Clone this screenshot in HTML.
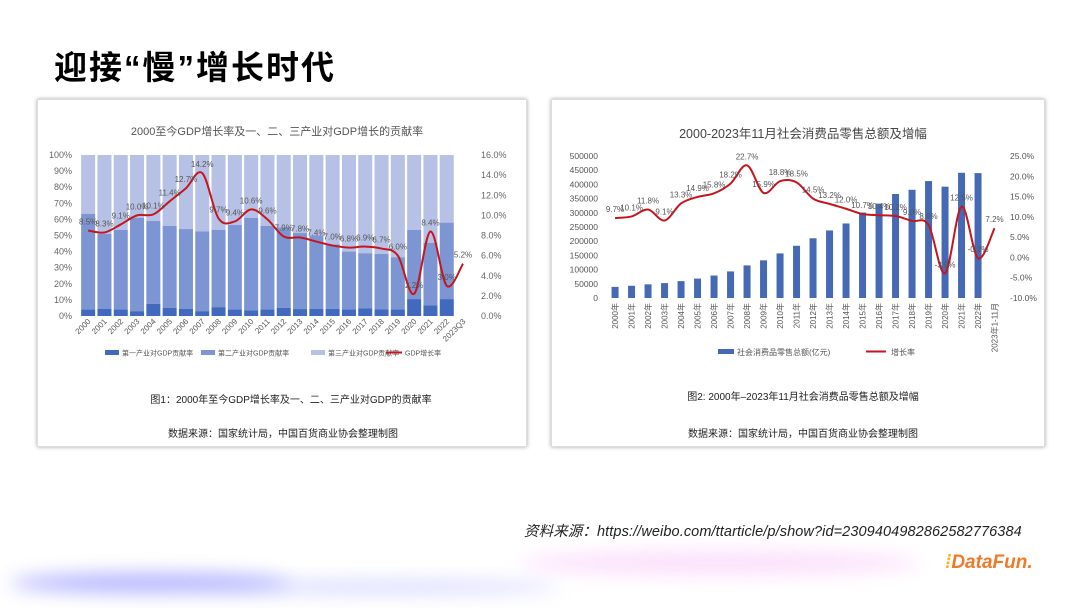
<!DOCTYPE html>
<html><head><meta charset="utf-8">
<style>
body{margin:0;width:1080px;height:608px;overflow:hidden;background:#fff;font-family:"Liberation Sans","Noto Sans CJK SC",sans-serif;position:relative}
.abs{position:absolute}
.card{position:absolute;background:#fff;box-shadow:0 0 4px rgba(0,0,0,.35);border:1px solid #ddd}
.cap{position:absolute;font-size:10px;color:#222;white-space:nowrap;transform:translateX(-50%)}
</style></head><body>
<div class="abs" style="left:54px;top:41px;font-size:33px;font-weight:bold;color:#000;font-family:'Liberation Sans','Noto Sans CJK SC',sans-serif;letter-spacing:2px">迎接“慢”增长时代</div>
<div class="card" style="left:37px;top:99px;width:488px;height:346px"></div>
<div class="card" style="left:551px;top:99px;width:492px;height:346px"></div>
<svg class="abs" style="left:0;top:0" width="1080" height="608" id="svg">
<defs>
<filter id="blur" x="-20%" y="-100%" width="140%" height="300%"><feGaussianBlur stdDeviation="9"/></filter>
</defs>
<ellipse cx="150" cy="583" rx="140" ry="10" fill="#a8a8ff" filter="url(#blur)" opacity="0.85"/>
<ellipse cx="380" cy="587" rx="180" ry="7" fill="#c0c4ff" filter="url(#blur)" opacity="0.6"/>
<ellipse cx="720" cy="563" rx="200" ry="12" fill="#fbd8fb" filter="url(#blur)" opacity="0.8"/>
<g id="L"></g><g id="R"></g>
</svg>
<div class="cap" style="left:291px;top:391px">图1：2000年至今GDP增长率及一、二、三产业对GDP的贡献率</div>
<div class="cap" style="left:283px;top:425px">数据来源：国家统计局，中国百货商业协会整理制图</div>
<div class="cap" style="left:803px;top:388px">图2: 2000年–2023年11月社会消费品零售总额及增幅</div>
<div class="cap" style="left:803px;top:425px">数据来源：国家统计局，中国百货商业协会整理制图</div>
<div class="abs" style="left:524px;top:520px;font-size:14.5px;font-style:italic;color:#222;white-space:nowrap;letter-spacing:0.1px">资料来源：https://weibo.com/ttarticle/p/show?id=2309404982862582776384</div>
<div class="abs" style="left:945px;top:552px;font-size:19px;font-weight:bold;font-style:italic;color:#f07a2a;white-space:nowrap"><span style="color:#f5b820">⁞</span>DataFun.</div>
<script>
const NS="http://www.w3.org/2000/svg";
function mk(p,tag,at,txt){const e=document.createElementNS(NS,tag);for(const k in at)e.setAttribute(k,at[k]);if(txt!=null)e.textContent=txt;p.appendChild(e);return e;}
function smooth(pts){let d="M"+pts[0][0]+","+pts[0][1];for(let i=0;i<pts.length-1;i++){const p0=pts[i-1]||pts[i],p1=pts[i],p2=pts[i+1],p3=pts[i+2]||p2;const c1=[p1[0]+(p2[0]-p0[0])/6,p1[1]+(p2[1]-p0[1])/6],c2=[p2[0]-(p3[0]-p1[0])/6,p2[1]-(p3[1]-p1[1])/6];d+=`C${c1[0]},${c1[1]} ${c2[0]},${c2[1]} ${p2[0]},${p2[1]}`;}return d;}

// ---------- Left chart data ----------
const lYears=["2000","2001","2002","2003","2004","2005","2006","2007","2008","2009","2010","2011","2012","2013","2014","2015","2016","2017","2018","2019","2020","2021","2022","2023Q3"];
const primaryShare=[4,4.5,4,3,7.5,5,4.5,3,5.5,4,3.5,4,5,4.3,4.5,4.4,4,4.8,4.2,4,10.5,6.5,10.5];
const secondaryShare=[59.5,46.5,49.5,58,51.5,51,49.5,49.5,48,52.5,57.5,52,50,47.2,45.5,40.1,36,34.2,34.3,32.5,43,39,47.5];
const gdpGrowth=[8.5,8.3,9.1,10.0,10.1,11.4,12.7,14.2,9.7,9.4,10.6,9.6,7.9,7.8,7.4,7.0,6.8,6.9,6.7,6.0,2.2,8.4,3.0,5.2];
const lLeftTicks=["0%","10%","20%","30%","40%","50%","60%","70%","80%","90%","100%"];
const lRightTicks=["0.0%","2.0%","4.0%","6.0%","8.0%","10.0%","12.0%","14.0%","16.0%"];

(function(){
const g=document.getElementById("L");
const y0=316,y1=155,x0=80,slot=16.3;
const xs=i=>x0+slot*(i+0.5);
const yl=v=>y0-(y0-y1)*v/100;
const yr=v=>y0-(y0-y1)*v/16;
let t=mk(g,"text",{x:277,y:135,"font-size":11,fill:"#555","text-anchor":"middle"},"2000至今GDP增长率及一、二、三产业对GDP增长的贡献率");

lLeftTicks.forEach((s,i)=>{const e=mk(g,"text",{x:72,y:yl(i*10)+3,"font-size":9,fill:"#666","text-anchor":"end"},s);});
lRightTicks.forEach((s,i)=>{const e=mk(g,"text",{x:481,y:yr(i*2)+3,"font-size":9,fill:"#666"},s);});
const bw=slot*0.86;
primaryShare.forEach((p,i)=>{
 const s=secondaryShare[i],x=xs(i)-bw/2;
 let r=mk(g,"rect",{x:x,y:yl(100),width:bw,height:yl(p+s)-yl(100),fill:"#b6c1e5"});
 r=mk(g,"rect",{x:x,y:yl(p+s),width:bw,height:yl(p)-yl(p+s),fill:"#7d95d3"});
 r=mk(g,"rect",{x:x,y:yl(p),width:bw,height:y0-yl(p),fill:"#4169bd"});
});
const pts=gdpGrowth.map((v,i)=>[xs(i),yr(v)]);
let pth=mk(g,"path",{d:smooth(pts),fill:"none",stroke:"#c5161d","stroke-width":2});
gdpGrowth.forEach((v,i)=>{const e=mk(g,"text",{x:xs(i),y:yr(v)-6,"font-size":8,fill:"#555","text-anchor":"middle"},v.toFixed(1)+"%");});
lYears.forEach((s,i)=>{const e=mk(g,"text",{x:xs(i)+3,y:322,"font-size":8,fill:"#555","text-anchor":"end",transform:`rotate(-45 ${xs(i)+3} 322)`},s);});
const leg=[["rect","#4169bd",105,"第一产业对GDP贡献率"],["rect","#7d95d3",201,"第二产业对GDP贡献率"],["rect","#b6c1e5",311,"第三产业对GDP贡献率"],["line","#c5161d",386,"GDP增长率"]];
leg.forEach(l=>{let s;if(l[0]=="rect")s=mk(g,"rect",{x:l[2],y:350,width:14,height:5,fill:l[1]});else s=mk(g,"line",{x1:l[2],x2:l[2]+16,y1:352.5,y2:352.5,stroke:l[1],"stroke-width":2});

const e=mk(g,"text",{x:l[2]+(l[0]=="rect"?17:19),y:355.5,"font-size":7,fill:"#555"},l[3]);});
})();

// ---------- Right chart data ----------
const rYears=["2000年","2001年","2002年","2003年","2004年","2005年","2006年","2007年","2008年","2009年","2010年","2011年","2012年","2013年","2014年","2015年","2016年","2017年","2018年","2019年","2020年","2021年","2022年","2023年1-11月"];
const retailSales=[39106,43055,48136,52516,59501,68353,79145,93572,114830,132678,156998,183919,210307,237810,262394,300931,332316,366262,380987,411649,391981,440823,439733];
const retailGrowth=[9.7,10.1,11.8,9.1,13.3,14.9,15.8,18.2,22.7,15.9,18.8,18.5,14.5,13.2,12.0,10.7,10.4,10.2,9.0,8.0,-3.9,12.5,-0.2,7.2];
const rLeftTicks=[0,50000,100000,150000,200000,250000,300000,350000,400000,450000,500000];
const rRightTicks=["-10.0%","-5.0%","0.0%","5.0%","10.0%","15.0%","20.0%","25.0%"];

(function(){
const g=document.getElementById("R");
const y0=298,y1=156,x0=606.8,slot=16.5;
const xs=i=>x0+slot*(i+0.5);
const yl=v=>y0-(y0-y1)*v/500000;
const yr=v=>y0-(y0-y1)*(v+10)/35;
let t=mk(g,"text",{x:803,y:138,"font-size":12.5,fill:"#444","text-anchor":"middle"},"2000-2023年11月社会消费品零售总额及增幅");

rLeftTicks.forEach(v=>{const e=mk(g,"text",{x:598,y:yl(v)+3,"font-size":8.5,fill:"#555","text-anchor":"end"},String(v));});
rRightTicks.forEach((s,i)=>{const e=mk(g,"text",{x:1010,y:yr(-10+i*5)+3,"font-size":8.5,fill:"#555"},s);});
retailSales.forEach((v,i)=>{const r=mk(g,"rect",{x:xs(i)-3.5,y:yl(v),width:7,height:y0-yl(v),fill:"#4569b5"});});
const pts=retailGrowth.map((v,i)=>[xs(i),yr(v)]);
let p=mk(g,"path",{d:smooth(pts),fill:"none",stroke:"#c5161d","stroke-width":2});
retailGrowth.forEach((v,i)=>{const e=mk(g,"text",{x:xs(i),y:yr(v)-6,"font-size":8,fill:"#555","text-anchor":"middle"},v.toFixed(1)+"%");});
rYears.forEach((s,i)=>{const e=mk(g,"text",{x:xs(i)+3,y:303,"font-size":8,fill:"#555","text-anchor":"end",transform:`rotate(-90 ${xs(i)+3} 303)`},s);});
let s=mk(g,"rect",{x:718,y:349,width:16,height:5,fill:"#4569b5"});
let e=mk(g,"text",{x:737,y:355,"font-size":8,fill:"#555"},"社会消费品零售总额(亿元)");
s=mk(g,"line",{x1:866,x2:886,y1:351.5,y2:351.5,stroke:"#c5161d","stroke-width":2});
e=mk(g,"text",{x:891,y:355,"font-size":8,fill:"#555"},"增长率");
})();
</script>
</body></html>
